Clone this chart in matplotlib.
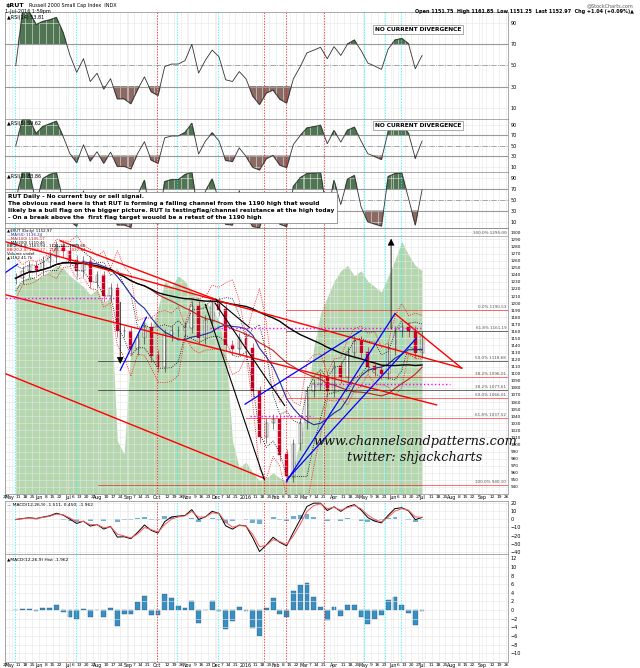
import matplotlib
matplotlib.use("Agg")
import matplotlib.pyplot as plt
import matplotlib.dates as mdates
import numpy as np
import pandas as pd

# ---------------- data ----------------
dates = pd.date_range("2015-05-08", "2016-07-01", freq="W-FRI")
close = [1235, 1245, 1252, 1247,
         1258, 1265, 1280, 1273,
         1260, 1245, 1258, 1230, 1238,
         1210, 1220, 1160, 1160,
         1135, 1150, 1165, 1125,
         1110, 1155, 1160, 1160, 1165,
         1195, 1150, 1175, 1200,
         1190, 1140, 1135, 1150,
         1135, 1075, 1010, 1030, 1035,
         985, 955, 1000, 1030,
         1075, 1085, 1095, 1075,
         1110, 1095, 1130, 1145, 1130,
         1110, 1105, 1100, 1135,
         1160, 1165, 1160, 1130,
         1152]
volume = [78, 80, 82, 81, 82, 84, 86, 85, 82, 80, 78, 75, 77, 72, 74, 20, 15,
          55, 60, 65, 62, 70, 80, 78, 82, 80, 76, 74, 72, 70, 65, 55, 20, 10,
          12, 8, 5, 6, 8, 6, 5, 10, 20, 35, 55, 68, 74, 80, 84, 86, 82, 84,
          80, 78, 76, 82, 88, 95, 90, 86, 84]

fib_levels = [1295.00, 1190.53, 1161.19, 1118.68, 1096.01, 1077.61, 1066.01, 1037.52, 943.10]
fib_labels = ["100.0% 1295.00", "0.0% 1190.53", "61.8% 1161.19", "50.0% 1118.68",
              "38.2% 1096.01", "38.2% 1077.61", "50.0% 1066.01", "61.8% 1037.52", "100.0% 940.10"]
fib_colors = ["gray", "red", "black", "black", "red", "black", "red", "red", "red"]
fib_start = ["2015-06-01", "2016-02-11", "2016-02-11", "2015-08-01", "2016-02-11",
             "2015-08-01", "2016-02-11", "2016-01-01", "2015-08-01"]

red_vlines = ["2015-10-01", "2016-01-20", "2016-02-11", "2016-03-22"]
cyan_vlines = ["2015-05-07", "2015-07-09", "2015-10-22", "2015-12-03",
               "2016-05-02", "2016-05-24", "2016-06-09"]

trend_red = [("2015-04-24", 1288, "2016-08-11", 1108), ("2015-04-24", 1213, "2016-07-16", 1056),
             ("2015-04-24", 1102, "2016-01-20", 952), ("2016-06-03", 1185, "2016-08-11", 1108),
             ("2015-06-23", 1288, "2015-12-01", 1205)]
trend_blue = [("2015-12-31", 1057, "2016-04-29", 1161), ("2016-02-12", 950, "2016-06-25", 1150),
              ("2016-02-12", 948, "2016-06-03", 1185), ("2015-08-24", 1105, "2015-09-20", 1180),
              ("2015-04-24", 1240, "2015-05-10", 1255)]
trend_black = [("2015-11-20", 1198, "2016-01-20", 950), ("2015-11-30", 1200, "2016-02-10", 1055),
               ("2015-12-01", 1205, "2016-01-05", 1165)]
magenta = [("2015-04-24", "2015-08-20", 1207), ("2015-11-25", "2016-06-30", 1165),
           ("2016-03-10", "2016-07-30", 1085), ("2016-01-05", "2016-03-10", 1040)]

# ---------------- indicators ----------------
s = pd.Series(close, index=dates, dtype=float)
def rsi(series, n):
    d = series.diff()
    up = d.clip(lower=0).ewm(alpha=1 / n, adjust=False).mean()
    dn = (-d.clip(upper=0)).ewm(alpha=1 / n, adjust=False).mean()
    r = 100 - 100 / (1 + up / dn.replace(0, 1e-9))
    return r.fillna(50)
rsi14, rsi5, rsi2 = rsi(s, 5), rsi(s, 2.5), rsi(s, 1.5)
macd = s.ewm(span=2.4).mean() - s.ewm(span=5.2).mean()
signal = macd.ewm(span=1.8).mean()
hist = macd - signal
ma50, ma100, ma200 = s.rolling(10, 1).mean(), s.rolling(20, 1).mean(), s.rolling(40, 1).mean()
bbm = s.rolling(4, 1).mean(); bbs = s.rolling(4, 1).std().fillna(15)

# ---------------- figure ----------------
fig = plt.figure(figsize=(6.4, 6.68), dpi=100)
L, W = 0.008, 0.786
ax_r14 = fig.add_axes([L, 0.822, W, 0.160])
ax_r5 = fig.add_axes([L, 0.7425, W, 0.079])
ax_r2 = fig.add_axes([L, 0.6587, W, 0.0838])
ax_p = fig.add_axes([L, 0.2605, W, 0.398])
ax_m = fig.add_axes([L, 0.1707, W, 0.0793])
ax_h = fig.add_axes([L, 0.009, W, 0.1617])
axes = [ax_r14, ax_r5, ax_r2, ax_p, ax_m, ax_h]
x0, x1 = pd.Timestamp("2015-04-27"), pd.Timestamp("2016-09-28")

axv = ax_p.twinx()
axv.set_ylim(0, 100); axv.axis("off")
axv.set_xlim(x0, x1)
axv.fill_between(dates, volume, color="#a8d1a0", alpha=0.85, lw=0)
axv.set_zorder(0); ax_p.set_zorder(1); ax_p.patch.set_visible(False)

for ax in axes:
    ax.set_xlim(x0, x1)
    ax.yaxis.tick_right()
    ax.tick_params(axis="y", labelsize=3.5, length=0, pad=2)
    ax.tick_params(axis="x", labelsize=3.2, length=0, pad=1, which="both")
    ax.xaxis.set_major_locator(mdates.MonthLocator())
    ax.xaxis.set_minor_locator(mdates.WeekdayLocator(byweekday=mdates.MO))
    ax.grid(True, which="both", color="#e6e6e6", lw=0.4)
    for sp in ax.spines.values():
        sp.set_color("#888888"); sp.set_linewidth(0.5)
    for d in red_vlines:
        ax.axvline(pd.Timestamp(d), color="red", ls="--", lw=0.5, dashes=(2, 2))
    for d in cyan_vlines:
        ax.axvline(pd.Timestamp(d), color="cyan", ls="--", lw=0.5, dashes=(2, 2))
    if ax not in (ax_p, ax_h):
        ax.set_xticklabels([]); ax.set_xticklabels([], minor=True)

def fmt_major(x, pos=None):
    d = mdates.num2date(x)
    return "2016" if (d.month == 1) else d.strftime("%b")
def fmt_minor(x, pos=None):
    d = mdates.num2date(x)
    return "" if (d.day <= 5 or d.day >= 28) else str(d.day)
for ax in (ax_p, ax_h):
    ax.xaxis.set_major_formatter(plt.FuncFormatter(fmt_major))
    ax.xaxis.set_minor_formatter(plt.FuncFormatter(fmt_minor))
    ax.tick_params(axis="x", which="major", labelsize=3.4)

# RSI panels
for ax, r, lab in [(ax_r14, rsi14, "RSI(14) 53.81"), (ax_r5, rsi5, "RSI(5) 59.62"), (ax_r2, rsi2, "RSI(2) 83.86")]:
    ax.set_ylim(0, 100)
    ax.set_yticks([10, 30, 50, 70, 90])
    ax.axhline(70, color="#999999", lw=0.8)
    ax.axhline(30, color="#999999", lw=0.8)
    ax.axhline(50, color="#999999", lw=0.6, ls="-.")
    ax.plot(dates, r, color="#333333", lw=0.6)
    ax.fill_between(dates, r, 70, where=r > 70, interpolate=True, color="#4f7552")
    ax.fill_between(dates, r, 30, where=r < 30, interpolate=True, color="#8c6a64")
    ax.text(0.004, 0.97, "▲" + lab, transform=ax.transAxes, fontsize=3.5, va="top")
for ax, y in [(ax_r14, 0.86), (ax_r5, 0.93)]:
    ax.text(0.735, y, "NO CURRENT DIVERGENCE", transform=ax.transAxes, fontsize=4.2,
            fontweight="bold", va="top", bbox=dict(fc="white", ec="#888888", lw=0.5, pad=1.2))

# Price panel
ax_p.set_ylim(930, 1306)
ax_p.set_yticks(np.arange(940, 1301, 10))
ax_p.yaxis.tick_right()
ax_p.tick_params(axis="y", labelsize=3, length=0, pad=2)
ax_p.plot(dates, bbm + 2 * bbs, color="red", ls=":", lw=0.6)
ax_p.plot(dates, bbm - 2 * bbs, color="red", ls=":", lw=0.6)
ax_p.plot(dates, bbm + 1.2 * bbs, color="black", ls=":", lw=0.6)
ax_p.plot(dates, bbm - 1.2 * bbs, color="black", ls=":", lw=0.6)
ax_p.plot(dates, ma50, color="#1f2f9f", lw=0.8)
ax_p.plot(dates, ma100, color="#c02020", lw=0.8)
ax_p.plot(dates, ma200, color="black", lw=1.0)
prev = [close[0]] + close[:-1]
for d, o, c in zip(dates, prev, close):
    col = "#cc0022" if c < o else "#222222"
    ax_p.vlines(d, min(o, c) - 8, max(o, c) + 8, color=col, lw=0.4)
    ax_p.bar(d, abs(c - o) + 1, bottom=min(o, c), width=3, color=col if c < o else "white",
             edgecolor=col, lw=0.3)
for lv, lb, co, st in zip(fib_levels, fib_labels, fib_colors, fib_start):
    ax_p.plot([pd.Timestamp(st), x1], [lv, lv], color=co, lw=0.5, alpha=0.8)
    ax_p.text(x1 - pd.Timedelta(days=2), lv + 1, lb, fontsize=3, ha="right", va="bottom", color="#555555")
for lst, col, lw in [(trend_red, "red", 1.0), (trend_blue, "blue", 0.9), (trend_black, "black", 0.8)]:
    for a, pa, b, pb in lst:
        ax_p.plot([pd.Timestamp(a), pd.Timestamp(b)], [pa, pb], color=col, lw=lw)
for a, b, lv in magenta:
    ax_p.plot([pd.Timestamp(a), pd.Timestamp(b)], [lv, lv], color="magenta", ls=":", lw=1.0)
ax_p.annotate("", xy=(pd.Timestamp("2016-05-30"), 1295), xytext=(pd.Timestamp("2016-05-30"), 1160),
              arrowprops=dict(arrowstyle="-|>", color="black", lw=0.6))
ax_p.annotate("", xy=(pd.Timestamp("2015-08-24"), 1110), xytext=(pd.Timestamp("2015-08-24"), 1205),
              arrowprops=dict(arrowstyle="-|>", color="black", lw=0.6))
leg = ["▲$RUT (Daily) 1152.97", "—MA(50) 1136.24", "—MA(100) 1105.17", "—MA(200) 1110.46",
       "BB(20,2.0) 1163.94 - 1121.27 - 1099.60", "BB(20,2.0) 1068.27 - 1121.27 - 1022.24",
       "Volume undef", "▲1152 41.7k"]
legcol = ["black", "#1f2f9f", "#c02020", "black", "black", "red", "black", "black"]
for i, (t, c) in enumerate(zip(leg, legcol)):
    ax_p.text(0.004, 0.995 - i * 0.014, t, transform=ax_p.transAxes, fontsize=2.8, va="top", color=c)
ax_p.text(0.815, 0.185, "www.channelsandpatterns.com", transform=ax_p.transAxes, fontsize=9.3,
          family="DejaVu Serif", style="italic", ha="center", color="#111111")
ax_p.text(0.815, 0.125, "twitter: shjackcharts", transform=ax_p.transAxes, fontsize=9.3,
          family="DejaVu Serif", style="italic", ha="center", color="#111111")

# MACD panel
ax_m.set_ylim(-43, 23)
ax_m.set_yticks([20, 10, 0, -10, -20, -30, -40])
ax_m.bar(dates, hist, width=5, color="#4a9bcc", alpha=0.8)
ax_m.plot(dates, macd, color="black", lw=0.7)
ax_m.plot(dates, signal, color="#ff5555", lw=0.7)
ax_m.text(0.004, 0.97, "— MACD(12,26,9) -1.511, 0.450, -1.962", transform=ax_m.transAxes, fontsize=3.2, va="top")

# Histogram panel
ax_h.set_ylim(-12, 13)
ax_h.set_yticks(np.arange(-10, 13, 2))
ax_h.bar(dates, hist, width=5, color="#3a8fc0", edgecolor="#1f5f8a", lw=0.3)
ax_h.text(0.004, 0.97, "▲MACD(12,26,9) Hist -1.962", transform=ax_h.transAxes, fontsize=3.2, va="top")

# Header texts
fig.text(0.008, 0.9955, "$RUT", fontsize=4.5, fontweight="bold", va="top")
fig.text(0.045, 0.9955, "Russell 2000 Small Cap Index  INDX", fontsize=3.5, va="top")
fig.text(0.008, 0.986, "1-Jul-2016 1:59pm", fontsize=3.5, va="top")
fig.text(0.99, 0.9955, "@StockCharts.com", fontsize=3.5, va="top", ha="right", color="#555555")
fig.text(0.99, 0.986, "Open 1151.75  High 1161.85  Low 1151.25  Last 1152.97  Chg +1.04 (+0.09%)▲",
         fontsize=3.5, va="top", ha="right", fontweight="bold")

# Comment box
note = ("RUT Daily - No current buy or sell signal.\n"
        "The obvious read here is that RUT is forming a falling channel from the 1190 high that would\n"
        "likely be a bull flag on the bigger picture. RUT is testingflag/channel resistance at the high today\n"
        "- On a break above the  first flag target wouold be a retest of the 1190 high")
fig.text(0.012, 0.709, note, fontsize=4.2, fontweight="bold", va="top", linespacing=1.45,
         bbox=dict(fc="white", ec="#777777", lw=0.5, pad=2))

fig.savefig("out.png", dpi=100)
